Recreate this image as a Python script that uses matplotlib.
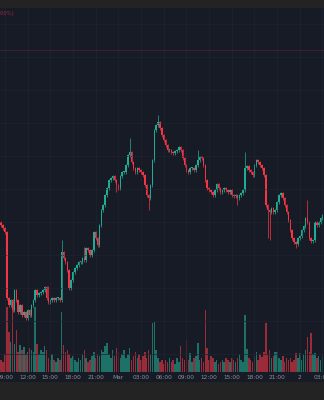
import numpy as np
import matplotlib
matplotlib.use("Agg")
import matplotlib.pyplot as plt

# 15 min candles, 1 Mar session (price units are arbitrary)
closes = [175, 172, 168, 102, 95, 100, 90, 110, 100, 88,
          95, 85, 88, 82, 90, 85, 95, 100, 110, 105,
          107, 108, 110, 113, 102, 98, 100, 102, 100, 102,
          102, 100, 148, 142, 138, 130, 112, 120, 128, 132,
          135, 138, 138, 142, 140, 152, 150, 145, 150, 168,
          162, 155, 175, 190, 195, 205, 212, 220, 222, 224,
          220, 215, 212, 224, 228, 228, 235, 245, 248, 238,
          232, 228, 232, 230, 228, 225, 215, 205, 202, 215,
          240, 270, 275, 278, 272, 265, 260, 255, 250, 250,
          248, 247, 249, 250, 253, 250, 242, 235, 230, 228,
          232, 232, 230, 235, 240, 243, 242, 235, 220, 212,
          210, 208, 205, 210, 216, 212, 208, 210, 212, 210,
          208, 210, 205, 204, 205, 202, 205, 207, 210, 232,
          234, 230, 228, 225, 235, 240, 238, 235, 232, 225,
          195, 190, 188, 192, 188, 190, 198, 205, 207, 202,
          195, 188, 180, 170, 162, 158, 156, 162, 164, 170,
          174, 182, 178, 162, 159, 160, 178, 175, 178, 182,
          185]
first_open = 178

volumes = [12, 10, 18, 65, 40, 30, 62, 28, 42, 20,
           27, 22, 25, 18, 20, 24, 22, 20, 65, 28,
           18, 22, 20, 26, 22, 14, 12, 18, 12, 10,
           14, 12, 60, 27, 20, 22, 18, 14, 16, 12,
           10, 14, 12, 18, 22, 14, 10, 12, 16, 20,
           14, 18, 16, 22, 20, 26, 29, 18, 14, 22,
           16, 24, 20, 14, 18, 22, 14, 18, 24, 12,
           16, 20, 14, 18, 12, 16, 20, 14, 22, 18,
           49, 50, 22, 14, 10, 12, 8, 12, 10, 14,
           10, 12, 8, 14, 10, 26, 14, 12, 32, 12,
           19, 10, 14, 16, 29, 12, 14, 10, 62, 24,
           12, 16, 14, 10, 12, 8, 10, 12, 10, 14,
           12, 10, 14, 12, 10, 14, 18, 12, 10, 57,
           23, 14, 12, 10, 16, 20, 12, 18, 15, 20,
           49, 18, 22, 14, 16, 20, 20, 14, 12, 16,
           10, 14, 12, 14, 10, 12, 19, 14, 19, 12,
           18, 22, 35, 20, 39, 18, 19, 14, 16, 12,
           16]

# candles with long wicks: index -> (high, low)
long_wicks = {25: (114, None), 32: (160, None), 44: (153, None),
              61: (None, 208), 68: (262, None), 78: (None, 190),
              83: (285, None), 104: (250, None), 125: (None, 195),
              129: (248, None), 141: (None, 162), 142: (None, 160),
              156: (None, 152), 162: (200, None)}
wick = 1.5

tick_pos = [2, 14, 26, 38, 50, 62, 74, 86, 98, 110, 122, 134, 146, 158, 170]
tick_labels = ["09:00", "12:00", "15:00", "18:00", "21:00", "Mar", "03:00",
               "06:00", "09:00", "12:00", "15:00", "18:00", "21:00", "2", "03:00"]
grid_prices = [376, 343, 310, 277, 244, 211, 178, 145, 112, 79, 46]
alert_price = 350.5

up, down = "#22ab94", "#f23645"
bg = "#171b26"

closes = np.array(closes, dtype=float)
opens = np.r_[first_open, closes[:-1]]
x = np.arange(len(closes))
highs = np.maximum(opens, closes) + wick
lows = np.minimum(opens, closes) - wick
for i, (h, l) in long_wicks.items():
    if h is not None:
        highs[i] = h
    if l is not None:
        lows[i] = l
colors = np.where(closes >= opens, up, down)

fig = plt.figure(figsize=(3.24, 4.0), dpi=100, facecolor="#232323")
fig.patches.append(plt.Rectangle((0, 18 / 400), 1, 10 / 400, transform=fig.transFigure,
                                 facecolor=bg, edgecolor="none", zorder=0))
ax = fig.add_axes([0, 28 / 400, 1, 364 / 400])
ax2 = ax.twinx()
ax.set_zorder(ax2.get_zorder() + 1)
ax.patch.set_visible(False)
ax2.patch.set_visible(True)
ax2.set_facecolor(bg)

# volume
ax2.bar(x, volumes, width=0.8, color=colors, alpha=0.6, linewidth=0)
ax2.set_ylim(0, 364)
ax2.set_yticks([])

# candles
ax.vlines(x, lows, highs, colors=colors, linewidth=0.6, alpha=0.85)
body = np.maximum(np.abs(closes - opens), 1.0)
ax.bar(x, body, bottom=np.minimum(opens, closes), width=0.8, color=colors, linewidth=0)
ax.axhline(alert_price, color="#f23645", alpha=0.22, linewidth=0.6)

ax.set_xlim(-0.63, 170.8)
ax.set_ylim(28, 392)
ax.set_yticks(grid_prices)
ax.set_xticks(tick_pos)
ax.set_xticklabels(tick_labels)
ax.tick_params(axis="x", labelsize=4.2, colors="#8c8f99", length=0, pad=2)
ax.tick_params(axis="y", left=False, labelleft=False)
ax.grid(True, color="#1f2330", linewidth=0.5)
for a in (ax, ax2):
    for s in a.spines.values():
        s.set_visible(False)

fig.text(-0.012, 0.965, "0.00%)", color="#f23645", alpha=0.6, fontsize=3.8, va="center")

fig.savefig("out.png", dpi=100, facecolor=fig.get_facecolor())
